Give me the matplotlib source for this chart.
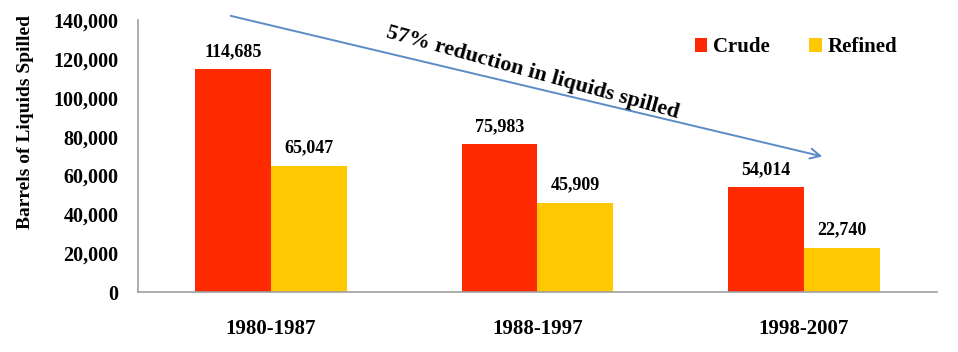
import matplotlib
matplotlib.use("Agg")
import matplotlib.pyplot as plt
import numpy as np

categories = ["1980-1987", "1988-1997", "1998-2007"]
crude = [114685, 75983, 54014]
refined = [65047, 45909, 22740]
series_names = ["Crude", "Refined"]
yticks = [0, 20000, 40000, 60000, 80000, 100000, 120000, 140000]

plt.rcParams['font.family'] = ['Liberation Serif', 'DejaVu Serif']
plt.rcParams['font.weight'] = 'bold'

fig = plt.figure(figsize=(9.58, 3.52), dpi=100)
ax = fig.add_axes([0.144, 0.170, 0.834, 0.773])

x = np.arange(len(categories))
w = 0.285
b1 = ax.bar(x - w/2, crude, w, color='#FF2A00', label=series_names[0])
b2 = ax.bar(x + w/2, refined, w, color='#FFC800', label=series_names[1])

for rects, vals in ((b1, crude), (b2, refined)):
    for r, v in zip(rects, vals):
        ax.text(r.get_x() + r.get_width()/2, v + 4800, f"{v:,}", ha='center', va='bottom',
                fontsize=13, fontweight='bold')

ax.set_xlim(-0.5, 2.5)
ax.set_ylim(0, 140000)
ax.set_yticks(yticks)
ax.set_yticklabels([f"{t:,}" for t in yticks], fontsize=14.5, fontweight='bold')
ax.set_xticks(x)
ax.set_xticklabels(categories, fontsize=15, fontweight='bold')
ax.tick_params(axis='both', length=0)
ax.tick_params(axis='y', pad=14)
ax.tick_params(axis='x', pad=19)
ax.set_ylabel("Barrels of Liquids Spilled", fontsize=14, fontweight='bold')
ax.yaxis.set_label_coords(-0.13, 0.625)

for s in ['top', 'right']:
    ax.spines[s].set_visible(False)
for s in ['left', 'bottom']:
    ax.spines[s].set_color('#A0A0A0')
    ax.spines[s].set_linewidth(1.2)

ax.annotate("", xy=(2.08, 69500), xytext=(-0.162, 142500),
            arrowprops=dict(arrowstyle='->', color='#5B8CC8', lw=1.4, mutation_scale=18),
            annotation_clip=False)
ax.text(0.98, 113000, "57% reduction in liquids spilled", rotation=-15.5,
        ha='center', va='center', fontsize=16, fontweight='bold')

leg = ax.legend(loc='upper right', bbox_to_anchor=(0.974, 1.005), ncol=2, frameon=False,
                handlelength=0.6, handleheight=0.6, handletextpad=0.3,
                columnspacing=1.87, prop={'weight': 'bold', 'size': 15})

fig.savefig("out.png", dpi=100)
